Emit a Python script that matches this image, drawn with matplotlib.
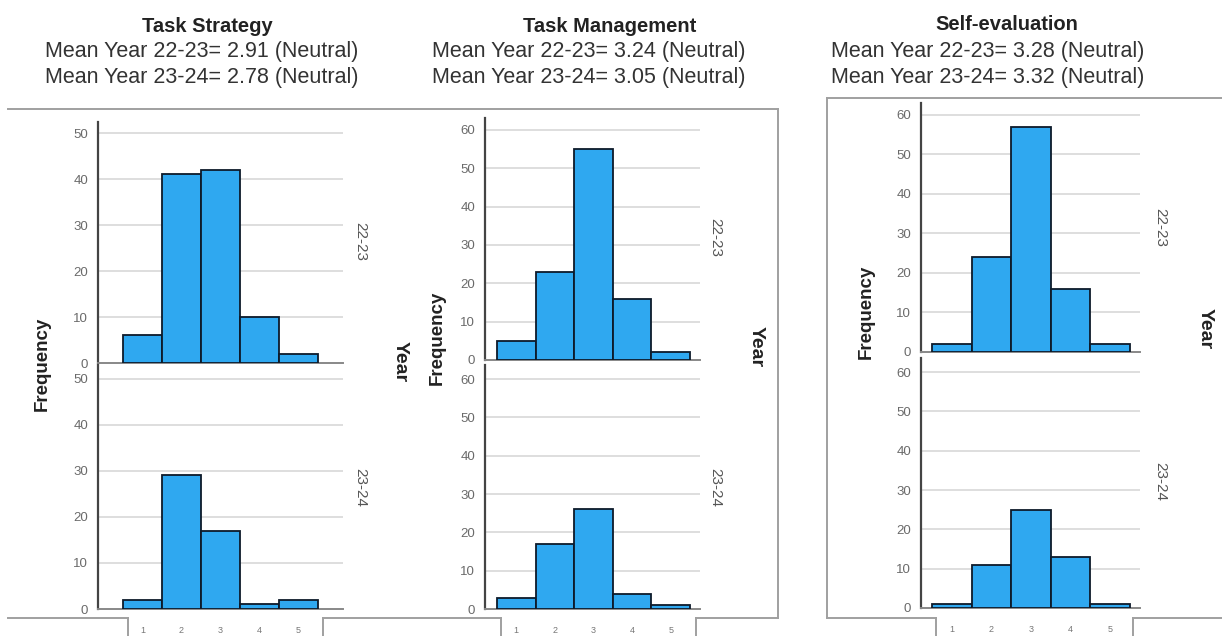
import matplotlib
matplotlib.use("Agg")
from matplotlib import pyplot as plt
from matplotlib.lines import Line2D

plt.rcParams['font.family'] = ['Liberation Sans', 'DejaVu Sans']

# data
scores = [1, 2, 3, 4, 5]
titles = ["Task Strategy", "Task Management", "Self-evaluation"]
mean_2223 = [2.91, 3.24, 3.28]
mean_2324 = [2.78, 3.05, 3.32]
freq_2223 = [[6, 41, 42, 10, 2], [5, 23, 55, 16, 2], [2, 24, 57, 16, 2]]
freq_2324 = [[2, 29, 17, 1, 2], [3, 17, 26, 4, 1], [1, 11, 25, 13, 1]]
year_labels = ["22-23", "23-24"]
yticks = [[0, 10, 20, 30, 40, 50], [0, 10, 20, 30, 40, 50, 60], [0, 10, 20, 30, 40, 50, 60]]

W, H = 1222, 636
fig = plt.figure(figsize=(W / 100, H / 100), dpi=100)

BLUE = "#2fa8f0"
EDGE = "#0d1a2a"
FRAME = "#a0a0a0"


def rect(x0, x1, y0, y1):
    # pixel box -> figure fraction
    return [x0 / W, 1 - y1 / H, (x1 - x0) / W, (y1 - y0) / H]


def fline(xs, ys, color=FRAME, lw=1.4):
    fig.add_artist(Line2D([x / W for x in xs], [1 - y / H for y in ys],
                          color=color, lw=lw, transform=fig.transFigure))


def ftext(x, y, s, **kw):
    fig.text(x / W, 1 - y / H, s, ha="center", va="center", **kw)


# pixel layout of each panel: x range, top axes y range, bottom axes y range, ylims, xlim
layout = [
    dict(x=(98, 343), top=(122, 363), bot=(365, 609), ylim=(52.4, 53.0), xlim=(-0.14, 6.14)),
    dict(x=(485, 700), top=(118, 360), bot=(365, 609), ylim=(63.1, 63.7), xlim=(0.19, 5.76)),
    dict(x=(921, 1140), top=(103, 352), bot=(358, 608), ylim=(63.0, 63.6), xlim=(0.22, 5.75)),
]

for i, L in enumerate(layout):
    for j, (yy, data) in enumerate([(L["top"], freq_2223[i]), (L["bot"], freq_2324[i])]):
        ax = fig.add_axes(rect(L["x"][0], L["x"][1], yy[0], yy[1]))
        ax.bar(scores, data, width=1.0, color=BLUE, edgecolor=EDGE, linewidth=1.3, zorder=3)
        ax.set_xlim(*L["xlim"])
        ax.set_ylim(0, L["ylim"][j])
        ax.set_yticks(yticks[i])
        ax.set_yticklabels([str(t) for t in yticks[i]], color="#6a6a6a", fontsize=9.5)
        for t in yticks[i][1:]:
            ax.axhline(t, color="#d4d4d4", lw=1.1, zorder=1)
        ax.tick_params(axis="y", length=0, pad=7)
        if j == 1:
            ax.set_xticks(scores)
            ax.set_xticklabels([str(s) for s in scores], color="#777777", fontsize=6.5)
            ax.tick_params(axis="x", length=0, pad=12)
        else:
            ax.set_xticks([])
        for s in ("top", "right"):
            ax.spines[s].set_visible(False)
        ax.spines["left"].set_color("#444444")
        ax.spines["left"].set_linewidth(1.6)
        ax.spines["bottom"].set_color("#888888")
        ax.spines["bottom"].set_linewidth(1.4)
        ax.patch.set_alpha(0)

# titles
title_pos = [(207, 26), (610, 26), (1007, 24)]
mean_x = [202, 589, 988]
for i, (tx, ty) in enumerate(title_pos):
    ftext(tx, ty, titles[i], fontsize=14.5, fontweight="bold", color="#222222")
    ftext(mean_x[i], 52, f"Mean Year {year_labels[0]}= {mean_2223[i]:.2f} (Neutral)", fontsize=15.5, color="#333333")
    ftext(mean_x[i], 77, f"Mean Year {year_labels[1]}= {mean_2324[i]:.2f} (Neutral)", fontsize=15.5, color="#333333")

# axis titles and facet strip labels
freq_pos = [(42, 364), (437, 338), (866, 312)]
year_pos = [(400, 362), (756, 347), (1205, 329)]
strip_pos = [((360, 242), (360, 488)), ((715, 237), (715, 487)), ((1160, 227), (1160, 482))]
for i in range(3):
    ftext(*freq_pos[i], "Frequency", fontsize=13.5, fontweight="bold", rotation=90, color="#222222")
    ftext(*year_pos[i], "Year", fontsize=14, fontweight="bold", rotation=-90, color="#222222")
    for k in range(2):
        ftext(*strip_pos[i][k], year_labels[k], fontsize=11, rotation=-90, color="#555555")

# chart frames as exported by SPSS
fline([8, 778], [109, 109])
fline([778, 778], [109, 618])
fline([827, 827], [98, 618])
fline([827, 1222], [98, 98])
BY = 618
for seg in [(8, 128), (323, 501), (696, 778), (827, 936), (1133, 1222)]:
    fline(list(seg), [BY, BY])
for x in [128, 323, 501, 696, 936, 1133]:
    fline([x, x], [BY, H])

fig.savefig("out.png", dpi=100)
